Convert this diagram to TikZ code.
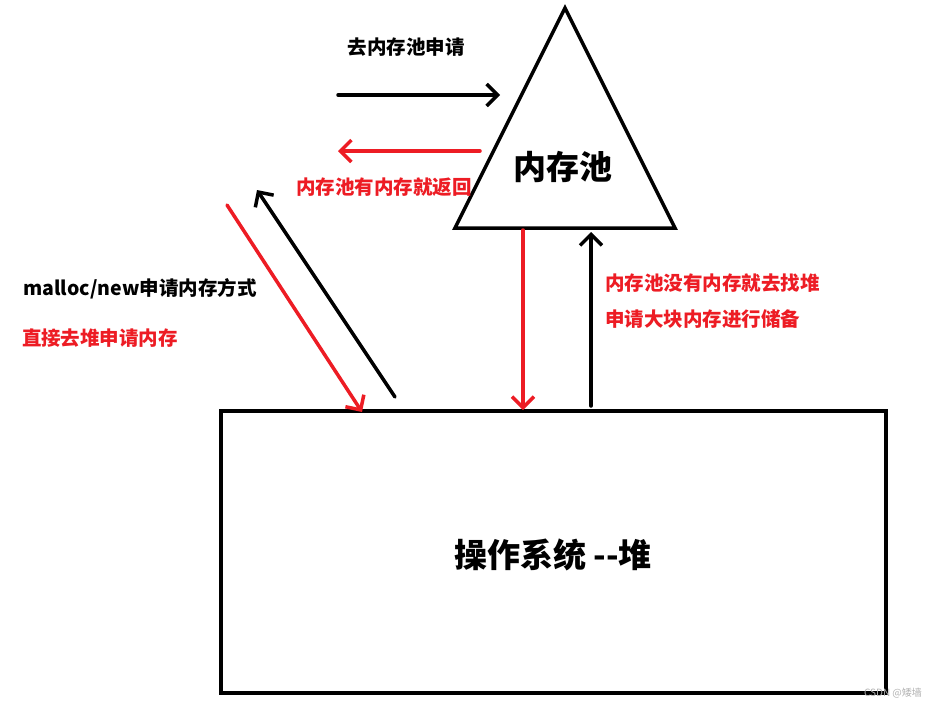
\documentclass[tikz,border=0pt]{standalone}
\usepackage{fontspec}
\newfontfamily\cjk{Noto Sans CJK SC}
\usetikzlibrary{arrows.meta}
\definecolor{rd}{RGB}{237,28,36}
\begin{document}
\begin{tikzpicture}[x=1pt,y=-1pt,
  ln/.style={line width=3.5pt,line cap=round,-{Straight Barb[length=11pt,width=22pt,line width=3.5pt]}},
  lbl/.style={font=\cjk\bfseries\fontsize{19.5}{22}\selectfont,inner sep=0pt},
  big/.style={font=\cjk\bfseries\fontsize{33}{36}\selectfont,inner sep=0pt}]
\useasboundingbox[fill=white] (0,0) rectangle (943,710);
\draw[line width=3.5pt,line join=miter] (565,8) -- (675,228) -- (455,228) -- cycle;
\node[big] (pool) at (563,167) {内存池};
\draw[line width=3.5pt] (221,411) rectangle (886,693);
\node[big] (os) at (553,555) {操作系统 --堆};
\coordinate (a1) at (338,95); \coordinate (a2) at (500,95);
\draw[ln] (a1) -- (a2);
\node[lbl] (t1) at (406,47) {去内存池申请};
\coordinate (b1) at (480,151); \coordinate (b2) at (338,151);
\draw[ln,rd] (b1) -- (b2);
\node[lbl,text=rd] (t2) at (384,187) {内存池有内存就返回};
\coordinate (c1) at (395,397); \coordinate (c2) at (257,190);
\draw[ln] (c1) -- (c2);
\coordinate (d1) at (227,205); \coordinate (d2) at (362,412);
\draw[ln,rd] (d1) -- (d2);
\node[lbl] (t3) at (140,289) {malloc/new申请内存方式};
\node[lbl,text=rd] (t4) at (100,338) {直接去堆申请内存};
\coordinate (e1) at (523,230); \coordinate (e2) at (523,410);
\draw[ln,rd] (e1) -- (e2);
\coordinate (f1) at (591,406); \coordinate (f2) at (591,232);
\draw[ln] (f1) -- (f2);
\node[lbl,text=rd,anchor=west] (t5) at (605,283) {内存池没有内存就去找堆};
\node[lbl,text=rd,anchor=west] (t6) at (605,319) {申请大块内存进行储备};
\node[font=\cjk\fontsize{10}{12}\selectfont,text=gray!60,inner sep=0pt] (wm) at (893,693) {CSDN @矮墙};
\end{tikzpicture}
\end{document}
